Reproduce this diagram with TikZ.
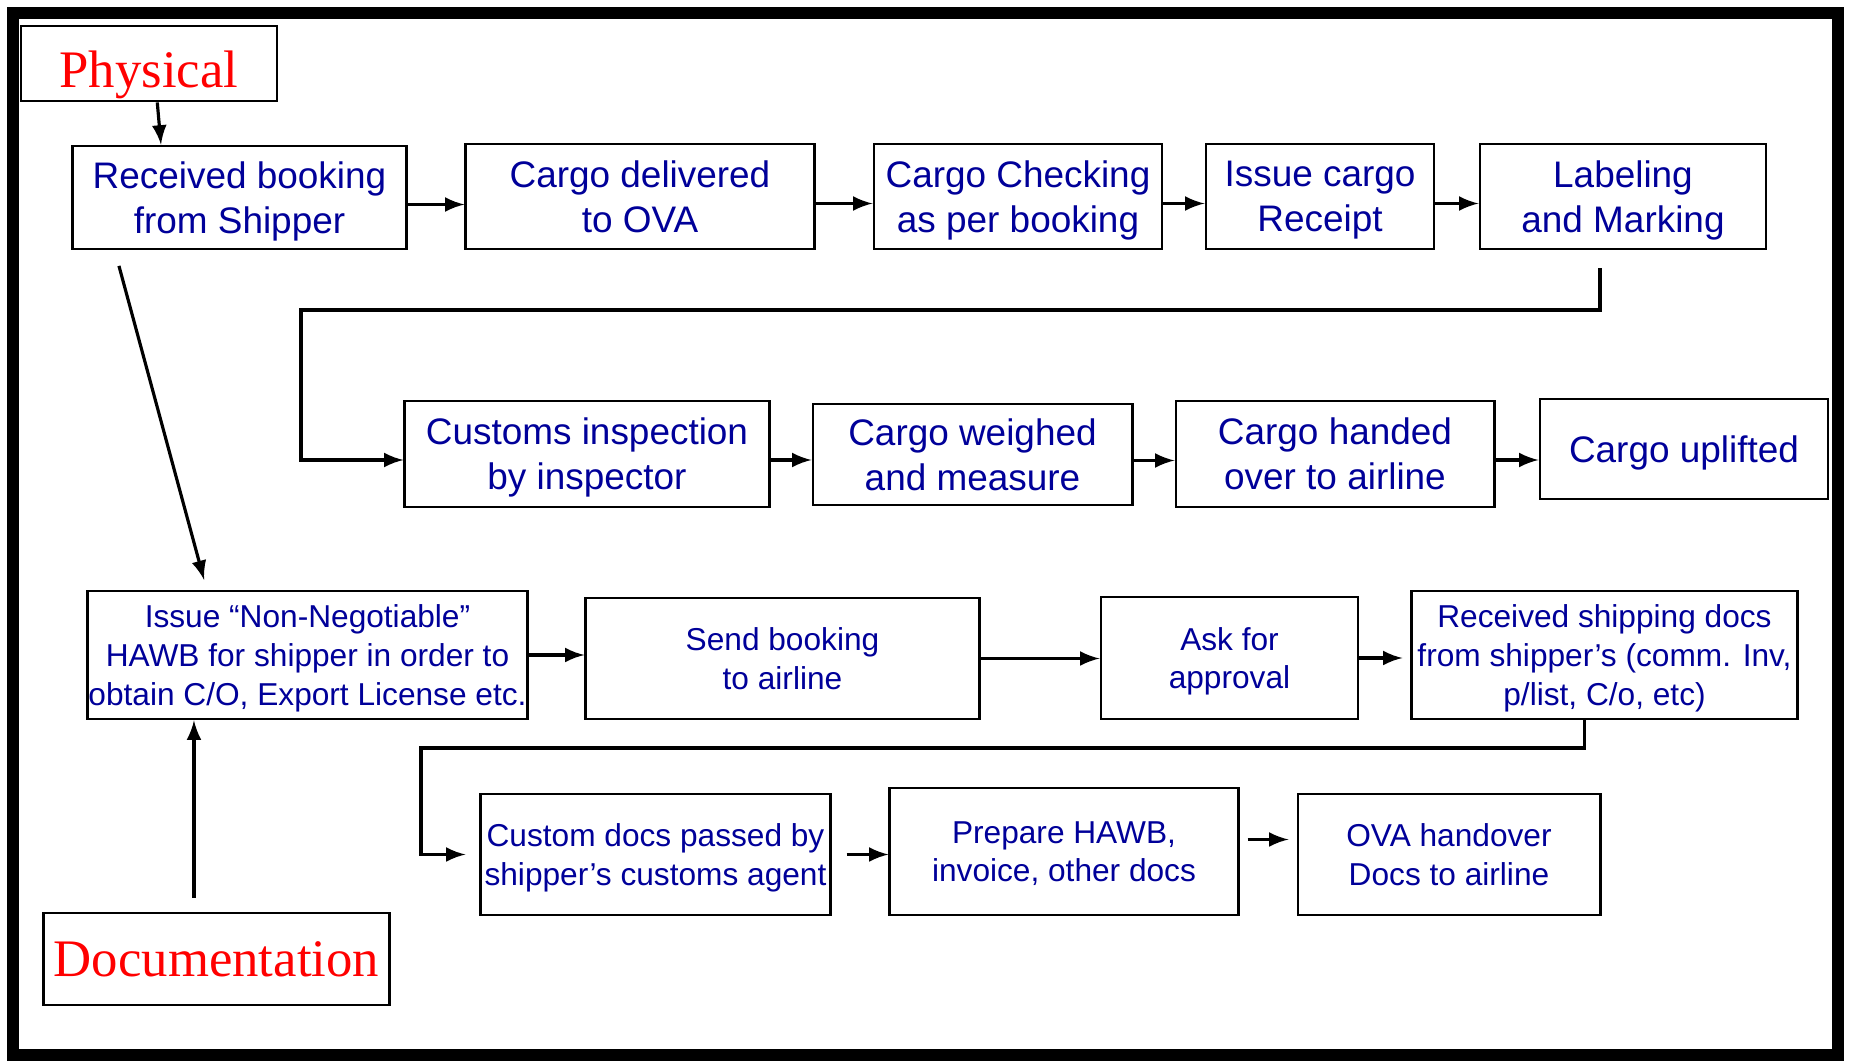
\documentclass[tikz,border=0pt]{standalone}
\usepackage{fontspec}
\setmainfont{Liberation Sans}
\newfontfamily\tagfont{Liberation Serif}
\usetikzlibrary{arrows, positioning}
\definecolor{stepblue}{RGB}{0,0,153}

\begin{document}
\begin{tikzpicture}[x=0.01cm, y=-0.01cm,
  box/.style={draw, line width=0.8pt, inner sep=0pt, align=center, text depth=0pt, text=stepblue, font=\fontsize{10.5}{12.8}\selectfont},
  smallbox/.style={box, font=\fontsize{9}{11}\selectfont},
  tag/.style={draw, line width=0.8pt, inner sep=0pt, text=red, font=\tagfont\fontsize{15}{18}\selectfont},
  conn/.style={-latex, line width=0.9pt}]
\useasboundingbox (0,0) rectangle (1850,1061);
\draw[line width=0.12cm] (13,13) rectangle (1838,1055);

% labels
\node[tag, minimum width=2.56cm, minimum height=0.75cm, text height=13.5pt, text depth=0pt] (phys) at (149,63.5) {Physical};
\node[tag, minimum width=3.45cm, minimum height=0.92cm] (docu) at (216.5,959) {Documentation};

% physical flow
\node[box, minimum width=3.33cm, minimum height=1.03cm] (recv) at (239.5,197.5) {Received booking\\ from Shipper};
\node[box, minimum width=3.48cm, minimum height=1.05cm] (deliv) at (640,196.5) {Cargo delivered\\ to OVA};
\node[box, minimum width=2.88cm, minimum height=1.05cm] (check) at (1018,196.5) {Cargo Checking\\ as per booking};
\node[box, minimum width=2.28cm, minimum height=1.05cm] (receipt) at (1320,196.5) {Issue cargo\\ Receipt};
\node[box, minimum width=2.86cm, minimum height=1.05cm] (label) at (1623,196.5) {Labeling\\ and Marking};
\node[box, minimum width=3.64cm, minimum height=1.06cm] (customs) at (587,454) {Customs inspection\\ by inspector};
\node[box, minimum width=3.19cm, minimum height=1.01cm] (weigh) at (972.5,454.5) {Cargo weighed\\ and measure};
\node[box, minimum width=3.18cm, minimum height=1.06cm] (handed) at (1335,454) {Cargo handed\\ over to airline};
\node[box, minimum width=2.88cm, minimum height=1.00cm] (uplift) at (1684,449) {Cargo uplifted};

% documentation flow
\node[smallbox, minimum width=4.39cm, minimum height=1.28cm] (nonneg) at (307.5,655) {Issue “Non-Negotiable”\\ HAWB for shipper in order to\\ obtain C/O, Export License etc.};
\node[smallbox, minimum width=3.93cm, minimum height=1.21cm] (send) at (782.5,658.5) {Send booking\\ to airline};
\node[smallbox, minimum width=2.57cm, minimum height=1.22cm] (ask) at (1229.5,658) {Ask for\\ approval};
\node[smallbox, minimum width=3.85cm, minimum height=1.28cm] (docs) at (1604.5,655) {Received shipping docs\\ from shipper’s (comm. Inv,\\ p/list, C/o, etc)};
\node[smallbox, minimum width=3.49cm, minimum height=1.21cm] (custdocs) at (655.5,854.5) {Custom docs passed by\\ shipper’s customs agent};
\node[smallbox, minimum width=3.48cm, minimum height=1.27cm] (prep) at (1064,851.5) {Prepare HAWB,\\ invoice, other docs};
\node[smallbox, minimum width=3.02cm, minimum height=1.21cm] (ova) at (1449,854.5) {OVA handover\\ Docs to airline};

\coordinate (turn1) at (301,310);
\coordinate (turn2) at (421,748);

\draw[conn] (phys.-78) -- (recv.146);
\draw[conn] ([yshift=-0.07cm]recv.east) -- ([yshift=-0.07cm]recv.east -| deliv.west);
\draw[conn] ([yshift=-0.07cm]deliv.east) -- ([yshift=-0.07cm]deliv.east -| check.west);
\draw[conn] ([yshift=-0.07cm]check.east) -- ([yshift=-0.07cm]check.east -| receipt.west);
\draw[conn] ([yshift=-0.07cm]receipt.east) -- ([yshift=-0.07cm]receipt.east -| label.west);
\draw[conn, shorten <=0.18cm] ([xshift=-0.23cm]label.south) |- (turn1) |- ([yshift=-0.06cm]customs.west);
\draw[conn] ([yshift=-0.06cm]customs.east) -- ([yshift=-0.06cm]customs.east -| weigh.west);
\draw[conn] ([yshift=-0.06cm]weigh.east) -- ([yshift=-0.06cm]weigh.east -| handed.west);
\draw[conn] ([yshift=-0.06cm]handed.east) -- ([yshift=-0.06cm]handed.east -| uplift.west);

\draw[conn, shorten <=0.16cm, shorten >=0.1cm] (recv.203) -- (nonneg.147);
\draw[conn, shorten <=0.14cm] ([xshift=-0.225cm]docu.north) -- ([xshift=-0.225cm]docu.north |- nonneg.south);
\draw[conn] (nonneg.east) -- (nonneg.east -| send.west);
\draw[conn] (send.east) -- (send.east -| ask.west);
\draw[conn, shorten >=0.08cm] (ask.east) -- (ask.east -| docs.west);
\draw[conn, shorten >=0.14cm] ([xshift=-0.2cm]docs.south) |- (turn2) |- (custdocs.west);
\draw[conn, shorten <=0.15cm] (custdocs.east) -- (custdocs.east -| prep.west);
\draw[conn, shorten <=0.08cm, shorten >=0.08cm] ([yshift=0.12cm]prep.east) -- ([yshift=0.12cm]prep.east -| ova.west);
\end{tikzpicture}
\end{document}
